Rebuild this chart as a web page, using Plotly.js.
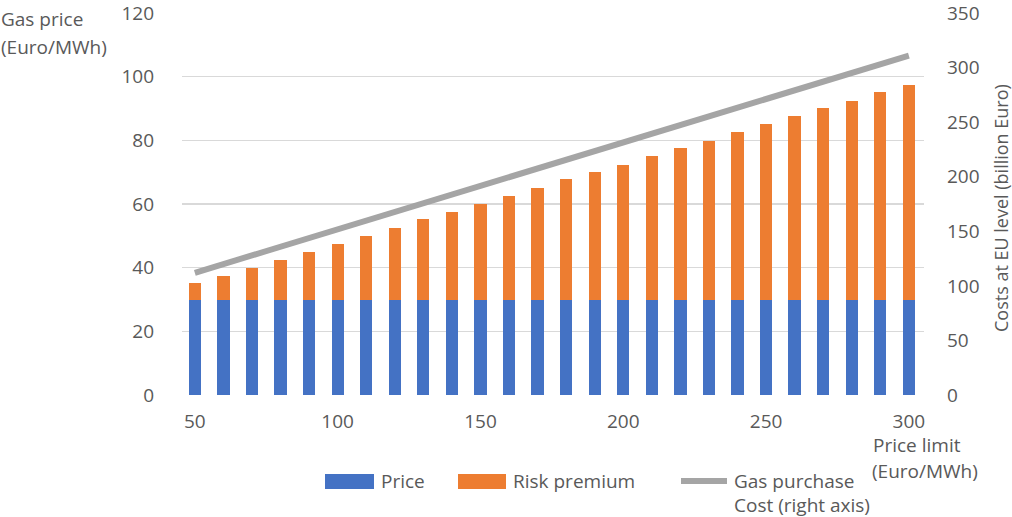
<!DOCTYPE html>
<html>
<head>
<meta charset="utf-8">
<script src="https://cdn.plot.ly/plotly-3.0.1.min.js"></script>
<style>html,body{margin:0;padding:0;background:#fff;}#chart{width:1012px;height:517px;}</style>
</head>
<body>
<div id="chart"></div>
<script>
// ---- data ----
const priceLimit = [50,60,70,80,90,100,110,120,130,140,150,160,170,180,190,200,210,220,230,240,250,260,270,280,290,300];
const price = [30,30,30,30,30,30,30,30,30,30,30,30,30,30,30,30,30,30,30,30,30,30,30,30,30,30];
const riskPremium = [5.2,7.5,9.9,12.5,15,17.4,20,22.4,25.2,27.5,30,32.6,35,37.7,40,42.4,45.1,47.5,49.9,52.5,55,57.8,60.1,62.4,65.2,67.5];
const purchaseCost = [112,120,128,136,144,152,160,168,176,184,192,200,208,216,224,232,240,248,256,264,272,280,288,296,304,311];
const xTicks = [50,100,150,200,250,300];
const yTicksLeft = [0,20,40,60,80,100,120];
const yTicksRight = [0,50,100,150,200,250,300,350];

// ---- layout helpers ----
const W = 1012, H = 517;
const PL = 182, PR = 924, PT = 13, PB = 395;
const px = x => (x - PL) / (PR - PL);
const py = y => (PB - y) / (PB - PT);
const FONT = '"Open Sans", sans-serif';
const TXT = '#595959';
const FS = 19;

const traces = [
  {type:'bar', x:priceLimit, y:price, name:'Price', marker:{color:'#4472C4'}, hoverinfo:'x+y'},
  {type:'bar', x:priceLimit, y:riskPremium, name:'Risk premium', marker:{color:'#ED7D31'}, hoverinfo:'x+y'},
  {type:'scatter', mode:'lines', x:priceLimit, y:purchaseCost, yaxis:'y2', name:'Gas purchase Cost (right axis)',
   line:{color:'#A5A5A5', width:6}}
];

function txt(t, x, y, anchor){
  return {xref:'paper', yref:'paper', x:px(x), y:py(y), text:t, showarrow:false,
          xanchor:anchor||'left', yanchor:'middle', font:{family:FONT, size:FS, color:TXT}};
}

const annotations = [
  txt('Gas price', -1, 19),
  txt('(Euro/MWh)', -1, 47),
  txt('Price limit', 871, 445),
  txt('(Euro/MWh)', 870, 471),
  txt('Price', 379, 481),
  txt('Risk premium', 511, 481),
  txt('Gas purchase', 732, 481),
  txt('Cost (right axis)', 732, 505),
  {xref:'paper', yref:'paper', x:px(1001), y:py(208), text:'Costs at EU level (billion Euro)', showarrow:false,
   textangle:-90, xanchor:'center', yanchor:'middle', font:{family:FONT, size:FS-1, color:TXT}}
];

const shapes = [
  {type:'rect', xref:'paper', yref:'paper', x0:px(325), x1:px(374), y0:py(489), y1:py(474), fillcolor:'#4472C4', line:{width:0}},
  {type:'rect', xref:'paper', yref:'paper', x0:px(458), x1:px(506), y0:py(489), y1:py(474), fillcolor:'#ED7D31', line:{width:0}},
  {type:'line', xref:'paper', yref:'paper', x0:px(681), x1:px(727), y0:py(481), y1:py(481), line:{color:'#A5A5A5', width:6}}
];

const layout = {
  width:W, height:H,
  margin:{l:PL, r:W-PR, t:PT, b:H-PB, pad:0},
  paper_bgcolor:'#ffffff', plot_bgcolor:'#ffffff',
  barmode:'stack', bargap:0.57,
  showlegend:false,
  font:{family:FONT, size:FS, color:TXT},
  xaxis:{range:[45.5,305.3], tickvals:xTicks, ticktext:xTicks.map(String), showgrid:false, zeroline:false,
         showline:false, ticks:'', ticklabelstandoff:13, tickfont:{family:FONT, size:FS, color:TXT}},
  yaxis:{range:[0,120.001], tickvals:yTicksLeft, ticktext:yTicksLeft.map(String), showgrid:true, gridcolor:'#D9D9D9', gridwidth:1.5,
         zeroline:false, showline:false, ticks:'', ticklabelstandoff:27, ticklabeloverflow:'allow',
         tickfont:{family:FONT, size:FS, color:TXT}},
  yaxis2:{range:[0,350.003], tickvals:yTicksRight, ticktext:yTicksRight.map(String), overlaying:'y', side:'right',
          showgrid:false, zeroline:false, showline:false, ticks:'', ticklabelstandoff:22, ticklabeloverflow:'allow',
          tickfont:{family:FONT, size:FS, color:TXT}},
  annotations:annotations,
  shapes:shapes
};

Plotly.newPlot('chart', traces, layout, {displayModeBar:false, staticPlot:true});
</script>
</body>
</html>
